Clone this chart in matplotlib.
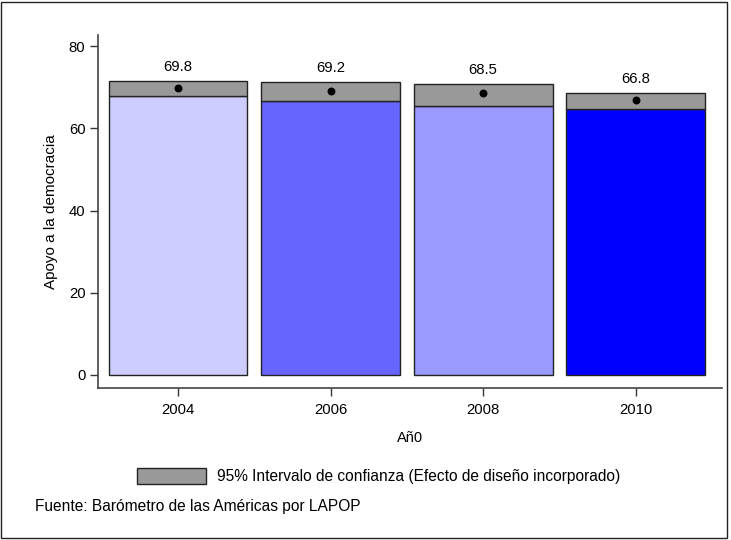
import matplotlib.pyplot as plt
from matplotlib.patches import Rectangle

plt.rcParams['font.family'] = ['Liberation Sans', 'DejaVu Sans']

# Apoyo a la democracia por año (media y IC 95%)
years = ['2004', '2006', '2008', '2010']
means = [69.8, 69.2, 68.5, 66.8]
ci_low = [67.9, 66.7, 65.5, 64.7]
ci_high = [71.5, 71.2, 70.9, 68.6]
bar_colors = ['#CCCCFF', '#6666FF', '#9999FF', '#0000FF']

fig = plt.figure(figsize=(7.31, 5.40), dpi=100)
ax = fig.add_axes([0.134, 0.2815, 0.854, 0.6535])

x = list(range(len(years)))
width = 0.91
ax.bar(x, ci_low, width=width, color=bar_colors, edgecolor='#222222', linewidth=1.0, zorder=2)
ax.bar(x, [h - l for h, l in zip(ci_high, ci_low)], bottom=ci_low, width=width,
       color='#999999', edgecolor='#222222', linewidth=1.0, zorder=2)
ax.scatter(x, means, s=22, color='black', zorder=3)
for xi, m, h in zip(x, means, ci_high):
    ax.annotate(f'{m:.1f}', (xi, h), xytext=(0, 5), textcoords='offset points',
                ha='center', va='bottom', fontsize=10.7)

ax.set_xlim(-0.525, 3.567)
ax.set_ylim(-3.2, 82.7)
ax.set_yticks([0, 20, 40, 60, 80])
ax.set_xticks(x)
ax.set_xticklabels(years)
ax.tick_params(axis='both', direction='out', length=6, width=1, labelsize=10.7, color='#333333')
ax.tick_params(axis='x', pad=5)
ax.tick_params(axis='y', pad=3)
for side in ['top', 'right']:
    ax.spines[side].set_visible(False)
for side in ['left', 'bottom']:
    ax.spines[side].set_color('#444444')
    ax.spines[side].set_linewidth(1.2)

ax.set_ylabel('Apoyo a la democracia', fontsize=11, labelpad=8)
ax.set_xlabel('Añ0', fontsize=10.5, labelpad=10)

# leyenda
fig.patches.append(Rectangle((137 / 731, 1 - 484 / 540), 69 / 731, 16 / 540,
                             transform=fig.transFigure, facecolor='#999999',
                             edgecolor='#222222', linewidth=1.0))
fig.text(217 / 731, 1 - 476 / 540, '95% Intervalo de confianza (Efecto de diseño incorporado)',
         fontsize=11.2, va='center', ha='left')
fig.text(35 / 731, 1 - 507 / 540, 'Fuente: Barómetro de las Américas por LAPOP',
         fontsize=11.2, va='center', ha='left')

# marco exterior
fig.patches.append(Rectangle((0.002, 0.004), 0.993, 0.993, transform=fig.transFigure,
                             fill=False, edgecolor='#222222', linewidth=1.0))

fig.savefig('out.png', dpi=100)
